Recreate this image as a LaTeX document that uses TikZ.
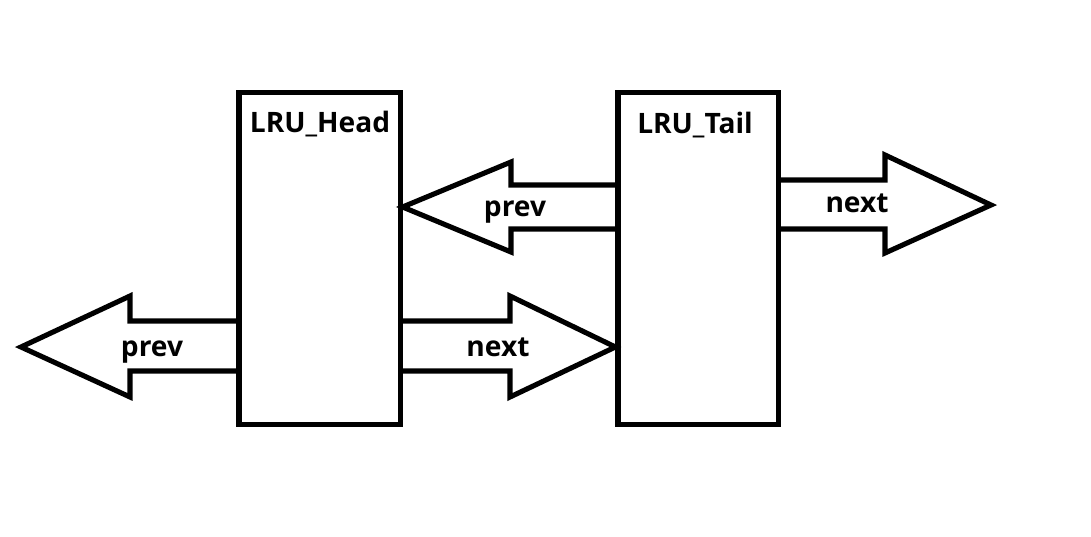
\documentclass[tikz,border=0pt]{standalone}
\usepackage{fontspec}
\setmainfont{Open Sans}
\begin{document}
\begin{tikzpicture}[x=0.01cm,y=-0.01cm,
  line width=1.45pt, line join=miter,
  box/.style={draw, line width=1.45pt, inner sep=0pt},
  lbl/.style={font=\bfseries\fontsize{8}{9}\selectfont, anchor=base, inner sep=0pt},
  arr/.style={draw, line width=1.45pt}]
\useasboundingbox (0,0) rectangle (1091,537);
% boxes
\node[box, minimum width=1.61cm, minimum height=3.31cm] (head) at (319.5,258.5) {};
\node[box, minimum width=1.60cm, minimum height=3.31cm] (tail) at (698,258.5) {};
\node[lbl] (headlbl) at (320,133) {LRU\_Head};
\node[lbl] (taillbl) at (695,134) {LRU\_Tail};
% top prev arrow (tail -> head)
\draw[arr] (tail.west |- 0,185) -- (511,185) -- (511,162) -- (head.east |- 0,207) -- (511,252) -- (511,229) -- (tail.west |- 0,229);
\node[lbl] (prev1) at (515,217) {prev};
% right next arrow
\draw[arr] (tail.east |- 0,180) -- (885,180) -- (885,155) -- (991,205) -- (885,253) -- (885,229) -- (tail.east |- 0,229);
\node[lbl] (next1) at (857,213) {next};
% left prev arrow
\draw[arr] (head.west |- 0,321) -- (130,321) -- (130,296) -- (21,347) -- (130,397) -- (130,371) -- (head.west |- 0,371);
\node[lbl] (prev2) at (152,357) {prev};
% bottom next arrow (head -> tail)
\draw[arr] (head.east |- 0,321) -- (510,321) -- (510,296) -- (tail.west |- 0,347) -- (510,397) -- (510,371) -- (head.east |- 0,371);
\node[lbl] (next2) at (498,357) {next};
\end{tikzpicture}
\end{document}
